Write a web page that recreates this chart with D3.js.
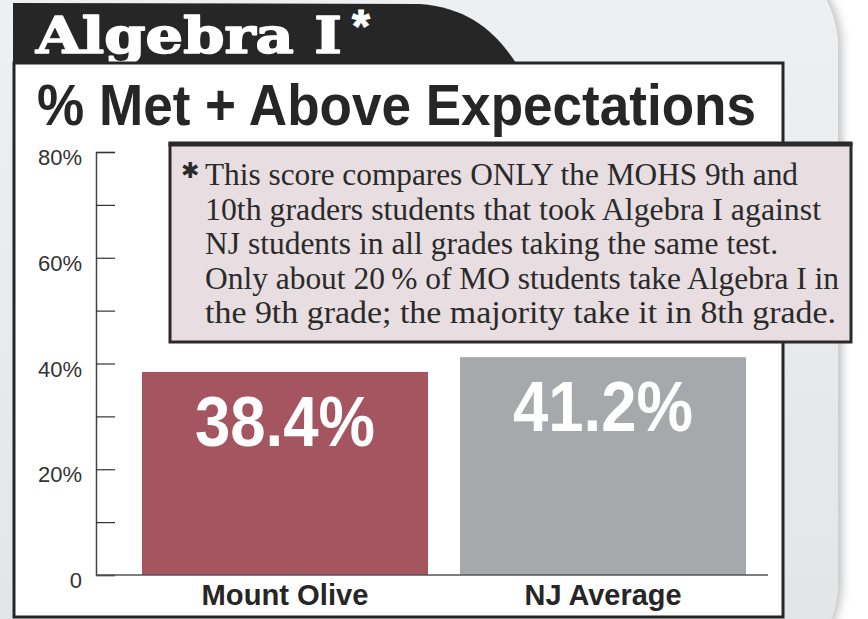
<!DOCTYPE html>
<html>
<head>
<meta charset="utf-8">
<script src="https://cdn.jsdelivr.net/npm/d3@7"></script>
<style>
  html, body { margin: 0; padding: 0; background: #fff; }
  svg { display: block; }
</style>
</head>
<body>
<svg id="chart" width="868" height="619"></svg>
<script>
// ==========
// CHART DATA
// ==========

const categories = ["Mount Olive", "NJ Average"];
const values = [38.4, 41.2];
const valueLabels = ["38.4%", "41.2%"];
const barColors = ["#a5555f", "#a7a8ac"];
const yTicks = [0, 10, 20, 30, 40, 50, 60, 70, 80];
const yTickLabels = ["0", "", "20%", "", "40%", "", "60%", "", "80%"];
const noteLines = [
  "This score compares ONLY the MOHS 9th and",
  "10th graders students that took Algebra I against",
  "NJ students in all grades taking the same test.",
  "Only about 20\u2009% of MO students take Algebra I in",
  "the 9th grade; the majority take it in 8th grade."
];
const noteWidths = [593, 616, 573, 634, 631];

const ink = "#262626";
const svg = d3.select("#chart");

// ===============
// BACKGROUND CARD
// ===============

const defs = svg.append("defs");
const grad = defs.append("linearGradient")
  .attr("id", "card").attr("x1", 0).attr("y1", 0).attr("x2", 0).attr("y2", 1);
grad.append("stop").attr("offset", "0%").attr("stop-color", "#eff0f2");
grad.append("stop").attr("offset", "100%").attr("stop-color", "#e3e4e6");

defs.append("filter").attr("id", "shadow")
  .attr("x", "-10%").attr("y", "-10%").attr("width", "130%").attr("height", "130%")
  .append("feDropShadow")
  .attr("dx", 4).attr("dy", 0).attr("stdDeviation", 5)
  .attr("flood-color", "#000").attr("flood-opacity", 0.25);

svg.append("rect")
  .attr("x", -40).attr("y", -40)
  .attr("width", 878).attr("height", 710)
  .attr("rx", 70).attr("ry", 90)
  .attr("fill", "url(#card)")
  .attr("filter", "url(#shadow)");

// ==========
// TITLE TAB
// ==========

svg.append("path")
  .attr("d", "M13,3 L420,4 C468,8 494,30 516,63 L13,63 Z")
  .attr("fill", ink);

svg.append("text")
  .attr("x", 36).attr("y", 53)
  .attr("textLength", 306).attr("lengthAdjust", "spacingAndGlyphs")
  .style("font-family", "'DejaVu Serif', serif")
  .style("font-weight", "bold")
  .style("font-size", "50px")
  .attr("fill", "#fff")
  .attr("stroke", "#fff").attr("stroke-width", 1.6)
  .attr("stroke-linejoin", "round")
  .text("Algebra I");

svg.append("text")
  .attr("x", 352).attr("y", 42)
  .style("font-family", "'Liberation Sans', Arial, sans-serif")
  .style("font-weight", "bold")
  .style("font-size", "46px")
  .attr("fill", "#fff")
  .attr("stroke", "#fff").attr("stroke-width", 1)
  .text("*");

// ==========
// MAIN PANEL
// ==========

svg.append("rect")
  .attr("x", 14).attr("y", 63)
  .attr("width", 769).attr("height", 554)
  .attr("fill", "#fff")
  .attr("stroke", ink).attr("stroke-width", 3);

svg.append("text")
  .attr("x", 37).attr("y", 125)
  .attr("textLength", 719).attr("lengthAdjust", "spacingAndGlyphs")
  .style("font-family", "'Liberation Sans', Arial, sans-serif")
  .style("font-weight", "bold")
  .style("font-size", "58px")
  .attr("fill", ink)
  .text("% Met + Above Expectations");

// ======
// SCALES
// ======

const y = d3.scaleLinear().domain([0, 80]).range([575, 152]);
const x = d3.scaleBand().domain(categories)
  .range([142, 746]).paddingInner(32 / 318).paddingOuter(0);

// ====
// AXIS
// ====

const yAxis = d3.axisRight(y)
  .tickValues(yTicks)
  .tickSize(19)
  .tickFormat("");

const axisG = svg.append("g")
  .attr("transform", "translate(96,0)")
  .call(yAxis);
axisG.select(".domain").attr("stroke", "#444").attr("stroke-width", 1.5);
axisG.selectAll(".tick line").attr("stroke", "#333").attr("stroke-width", 1.2);

svg.append("g")
  .selectAll("text")
  .data(yTicks)
  .join("text")
  .attr("x", 82)
  .attr("y", d => y(d) + 13)
  .attr("text-anchor", "end")
  .style("font-family", "'Liberation Sans', Arial, sans-serif")
  .style("font-size", "22px")
  .attr("fill", "#333")
  .text((d, i) => yTickLabels[i]);

// ====
// BARS
// ====

svg.append("g")
  .selectAll("rect")
  .data(values)
  .join("rect")
  .attr("x", (d, i) => x(categories[i]))
  .attr("y", d => y(d))
  .attr("width", x.bandwidth())
  .attr("height", d => y(0) - y(d))
  .attr("fill", (d, i) => barColors[i]);

// baseline
svg.append("line")
  .attr("x1", 96).attr("x2", 768)
  .attr("y1", y(0)).attr("y2", y(0))
  .attr("stroke", "#555").attr("stroke-width", 1.5);

svg.append("g")
  .selectAll("text")
  .data(values)
  .join("text")
  .attr("x", (d, i) => x(categories[i]) + x.bandwidth() / 2)
  .attr("y", d => y(d) + 74)
  .attr("text-anchor", "middle")
  .attr("textLength", 180).attr("lengthAdjust", "spacingAndGlyphs")
  .style("font-family", "'Liberation Sans Narrow', 'Liberation Sans', Arial, sans-serif")
  .style("font-weight", "bold")
  .style("font-size", "70px")
  .attr("fill", "#fff")
  .text((d, i) => valueLabels[i]);

svg.append("g")
  .selectAll("text")
  .data(categories)
  .join("text")
  .attr("x", d => x(d) + x.bandwidth() / 2)
  .attr("y", 605)
  .attr("text-anchor", "middle")
  .attr("textLength", (d, i) => i === 0 ? 167 : 157)
  .attr("lengthAdjust", "spacingAndGlyphs")
  .style("font-family", "'Liberation Sans Narrow', 'Liberation Sans', Arial, sans-serif")
  .style("font-weight", "bold")
  .style("font-size", "29px")
  .attr("fill", ink)
  .text(d => d);

// =========
// NOTE BOX
// =========

svg.append("rect")
  .attr("x", 170).attr("y", 144)
  .attr("width", 681).attr("height", 198)
  .attr("fill", "#e8dde0")
  .attr("stroke", "#2a2a2a").attr("stroke-width", 3);

svg.append("line")
  .attr("x1", 168.5).attr("x2", 852.5)
  .attr("y1", 144).attr("y2", 144)
  .attr("stroke", "#2a2a2a").attr("stroke-width", 5);

svg.append("text")
  .attr("x", 181).attr("y", 178)
  .style("font-family", "'DejaVu Sans', sans-serif")
  .style("font-size", "22px")
  .attr("fill", "#2a2a2a")
  .text("\u2731");

svg.append("g")
  .selectAll("text")
  .data(noteLines)
  .join("text")
  .attr("x", 205)
  .attr("y", (d, i) => 185 + i * 34.6)
  .attr("textLength", (d, i) => noteWidths[i])
  .attr("lengthAdjust", "spacingAndGlyphs")
  .style("font-family", "'Liberation Serif', 'Times New Roman', serif")
  .style("font-size", "32px")
  .attr("fill", "#2a2a2a")
  .text(d => d);
</script>
</body>
</html>
